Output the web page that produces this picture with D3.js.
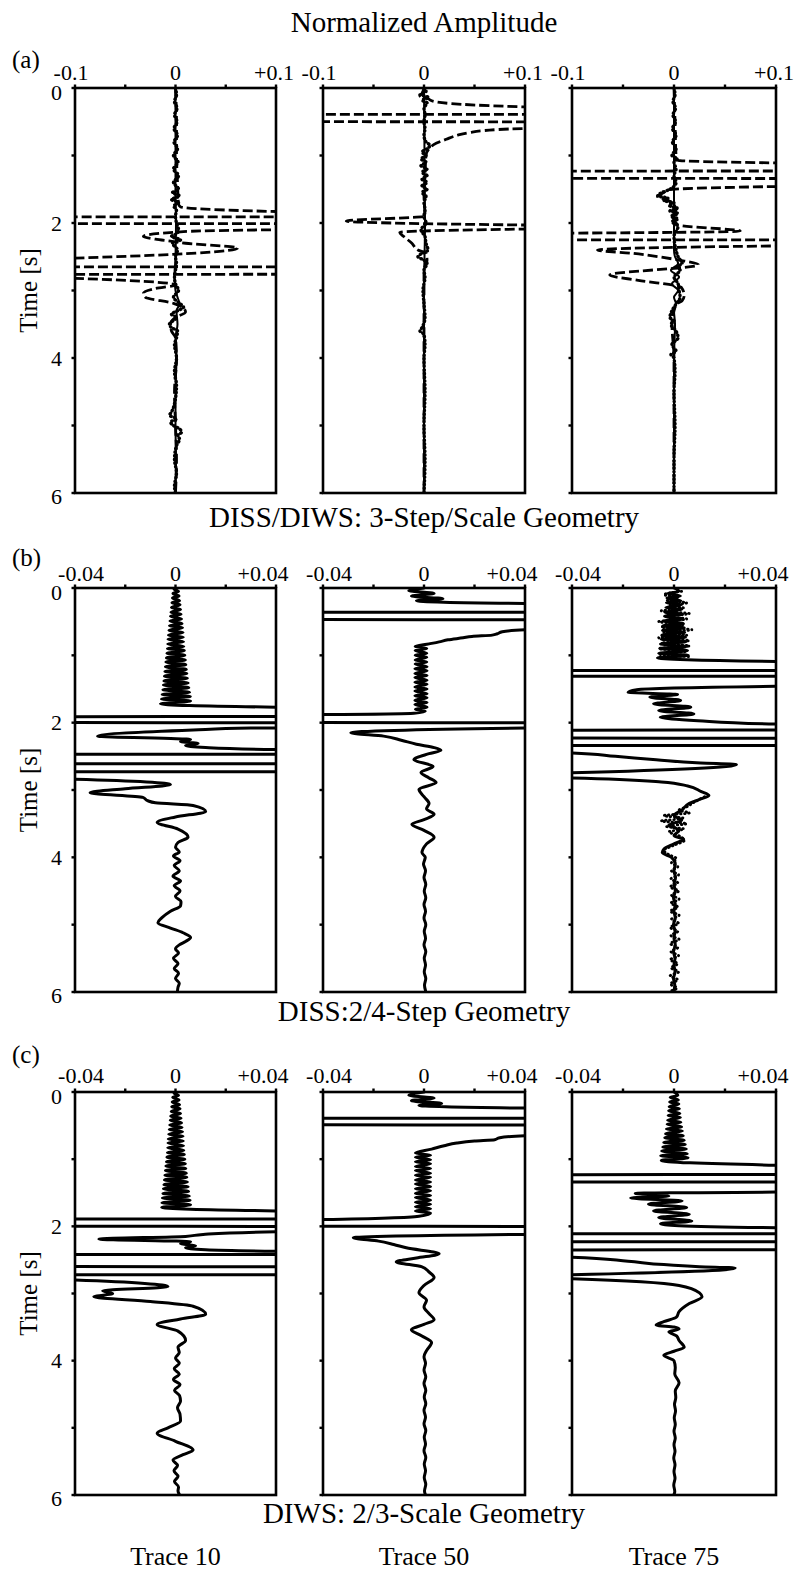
<!DOCTYPE html>
<html><head><meta charset="utf-8">
<script src="https://cdn.jsdelivr.net/npm/d3@7"></script>
<style>body{margin:0;background:#fff}svg{display:block}text{font-family:'Liberation Serif','Times New Roman',serif;fill:#000}</style>
</head><body><script>
// ---------- text ----------
const titleText = "Normalized Amplitude";
const rowLetters = ["(a)", "(b)", "(c)"];
const rowCaptions = ["DISS/DIWS: 3-Step/Scale Geometry", "DISS:2/4-Step Geometry", "DIWS: 2/3-Scale Geometry"];
const traceNames = ["Trace 10", "Trace 50", "Trace 75"];
const yAxisLabel = "Time [s]";
// ---------- axes ----------
const xDomains = [[-0.1, 0.1], [-0.04, 0.04], [-0.04, 0.04]];
const xTickValsA = [-0.1, -0.05, 0, 0.05, 0.1];
const xTickLabelsA = ["-0.1", "", "0", "", "+0.1"];
const xTickValsB = [-0.04, -0.02, 0, 0.02, 0.04];
const xTickLabelsB = ["-0.04", "", "0", "", "+0.04"];
const yTickVals = [0, 1, 2, 3, 4, 5, 6];
const yTickLabels = ["0", "", "2", "", "4", "", "6"];

// ---------- traces: [time s, amplitude] ----------
// row (a)
const a1Solid = [[0,0],[1.5,0],[2,0.0005],[2.5,0],[2.8,-0.001],[3,0],[3.1,0.002],[3.2,0.004],[3.3,0.001],[3.5,0.002],[3.7,0],[4,0.001],[4.5,0],[5,0],[5.5,0.0005],[6,0]];
const a1Dot = [[0,0],[0.1,0.001],[0.2,-0.001],[0.3,0.0015],[0.4,-0.001],[0.5,0.0015],[0.6,-0.0015],[0.7,0.002],[0.8,-0.0015],[0.9,0.002],[1,-0.002],[1.1,0.0025],[1.2,-0.002],[1.3,0.003],[1.4,-0.002],[1.5,0.003],[1.55,-0.003],[1.6,0.004],[1.65,-0.004],[1.7,0.003],[1.75,-0.002],[1.8,0.001],[1.9,0],[2,0.001],[2.1,0.003],[2.15,0.002],[2.2,-0.004],[2.25,0.005],[2.3,-0.003],[2.4,0.002],[2.5,0],[2.6,0.001],[2.7,0],[2.8,-0.001],[2.9,0],[3,0.003],[3.1,-0.002],[3.2,0.005],[3.25,0.008],[3.3,0.002],[3.35,-0.004],[3.4,0.001],[3.5,-0.006],[3.55,-0.004],[3.6,0.002],[3.7,0.001],[3.8,-0.001],[4,0.001],[4.2,-0.001],[4.4,0.001],[4.6,0],[4.8,-0.004],[4.85,-0.006],[4.9,0.001],[4.95,-0.005],[5,-0.002],[5.05,0.004],[5.1,0.006],[5.15,0.002],[5.2,0.004],[5.3,0.001],[5.5,-0.001],[5.7,0.001],[5.9,-0.001],[6,0]];
const a1Dash = [[0,0],[0.5,0.001],[1,0.001],[1.4,0.002],[1.72,0.003],[1.76,0.005],[1.83,0.1],[1.85,1],[1.9,1],[1.92,-1],[2,-1],[2.02,1],[2.08,1],[2.1,0.1],[2.13,0.005],[2.2,-0.032],[2.24,-0.02],[2.27,-0.005],[2.3,0.01],[2.37,0.062],[2.52,-0.1],[2.54,-1],[2.64,-1],[2.66,1],[2.75,1],[2.77,-1],[2.8,-1],[2.82,-0.1],[2.92,0],[2.97,-0.02],[3.04,-0.032],[3.1,-0.03],[3.19,-0.002],[3.26,0.008],[3.32,0.01],[3.4,0],[3.5,-0.005],[3.6,-0.004],[3.7,0],[4,0.001],[4.5,-0.001],[5,0],[5.5,0.001],[6,0]];
const a2Solid = [[0,0],[2,0.001],[3,0],[6,0]];
const a2Dot = [[0,0],[0.05,0.002],[0.1,-0.004],[0.14,0.005],[0.18,-0.002],[0.22,0.003],[0.3,0],[0.4,0.001],[0.5,0],[0.6,0.001],[0.7,0],[0.8,0.002],[0.85,0.006],[0.9,0.003],[0.95,-0.002],[1,0.002],[1.05,-0.003],[1.1,0.002],[1.15,-0.003],[1.2,0.003],[1.25,-0.002],[1.3,0.003],[1.35,-0.002],[1.4,0.003],[1.45,-0.002],[1.5,0.003],[1.55,-0.002],[1.6,0.002],[1.7,0],[1.8,0.001],[1.9,0],[2,0.002],[2.1,-0.003],[2.2,0.001],[2.3,0.002],[2.4,0.004],[2.45,-0.002],[2.5,-0.006],[2.55,0],[2.6,0.003],[2.7,0],[2.8,0.001],[3,-0.001],[3.2,0],[3.4,0.001],[3.55,-0.002],[3.6,-0.004],[3.65,0],[3.8,0.001],[4,0],[4.5,0.001],[5,0],[5.5,0.001],[6,0]];
const a2Dash = [[0,0],[0.08,-0.002],[0.12,-0.004],[0.16,0.004],[0.2,0.01],[0.28,0.1],[0.3,1],[0.38,1],[0.4,-1],[0.49,-1],[0.51,1],[0.58,1],[0.6,0.1],[0.63,0.06],[0.66,0.045],[0.7,0.033],[0.76,0.022],[0.82,0.012],[0.9,0.005],[1,0.002],[1.3,0.001],[1.6,0],[1.9,0.001],[1.97,-0.077],[2.03,0.1],[2.04,1],[2.07,1],[2.09,0.1],[2.14,-0.024],[2.2,-0.02],[2.3,-0.012],[2.4,-0.006],[2.45,0.002],[2.55,0.003],[2.7,0],[6,0]];
const a3Solid = [[0,0],[2.4,0],[2.5,0.001],[2.6,0.004],[2.7,-0.003],[2.8,0.005],[2.9,-0.002],[3,0.004],[3.1,0],[3.2,0.002],[3.3,0],[3.5,0.001],[4,0],[6,0]];
const a3Dot = [[0,0],[0.1,0.001],[0.2,-0.001],[0.3,0.0015],[0.4,-0.001],[0.5,0.0015],[0.6,-0.0015],[0.7,0.002],[0.8,-0.0015],[0.9,0.002],[1,-0.002],[1.05,0.003],[1.1,0],[1.2,0.002],[1.3,0],[1.4,0.002],[1.5,-0.004],[1.55,-0.012],[1.6,-0.016],[1.63,-0.006],[1.67,-0.01],[1.7,0],[1.74,-0.005],[1.78,0.003],[1.82,-0.004],[1.86,0.004],[1.9,-0.003],[1.94,0.004],[1.98,-0.002],[2.05,0.004],[2.2,0],[2.4,0.002],[2.5,0.004],[2.6,0.008],[2.65,0.003],[2.7,0.006],[2.8,0],[2.9,0.004],[3,0.005],[3.1,0.006],[3.2,0.002],[3.3,-0.002],[3.4,-0.004],[3.45,0],[3.5,-0.003],[3.6,0.002],[3.7,0.004],[3.8,-0.002],[3.9,0.002],[3.95,-0.003],[4,0],[4.2,0.001],[4.5,0],[5,0.001],[5.5,0],[6,0]];
const a3Dash = [[0,0],[0.5,0.001],[1,0.002],[1.07,0.004],[1.11,0.1],[1.13,1],[1.22,1],[1.24,-1],[1.33,-1],[1.35,1],[1.44,1],[1.46,0.1],[1.51,-0.006],[1.55,-0.01],[1.61,-0.016],[1.65,-0.008],[1.7,-0.002],[1.8,0.002],[1.9,-0.001],[2,0.002],[2.03,0.004],[2.12,0.065],[2.15,-0.1],[2.17,-1],[2.24,-1],[2.26,1],[2.32,1],[2.34,0.1],[2.4,-0.075],[2.45,-0.04],[2.5,-0.015],[2.55,0.005],[2.62,0.024],[2.77,-0.063],[2.85,-0.035],[2.95,0.007],[3.07,0.01],[3.15,0.008],[3.2,0.003],[3.3,0],[3.5,-0.002],[4,0],[6,0]];
// row (b)
const b1Solid = [[0,0.0006],[0.02,-0.0006],[0.05,0.0012],[0.08,-0.001],[0.12,0.0014],[0.15,-0.0012],[0.19,0.0016],[0.22,-0.0014],[0.25,0.0018],[0.29,-0.0016],[0.32,0.002],[0.36,-0.0018],[0.39,0.0022],[0.42,-0.002],[0.46,0.0024],[0.49,-0.0022],[0.53,0.0026],[0.56,-0.0024],[0.59,0.0028],[0.63,-0.0026],[0.66,0.003],[0.7,-0.0028],[0.73,0.0031],[0.76,-0.003],[0.8,0.0032],[0.83,-0.0031],[0.87,0.0033],[0.9,-0.0032],[0.93,0.0035],[0.97,-0.0034],[1,0.0037],[1.04,-0.0036],[1.07,0.0039],[1.1,-0.0038],[1.14,0.0041],[1.17,-0.004],[1.21,0.0043],[1.24,-0.0042],[1.27,0.0045],[1.31,-0.0044],[1.34,0.0047],[1.38,-0.0046],[1.41,0.005],[1.44,-0.0048],[1.48,0.0053],[1.51,-0.005],[1.55,0.0056],[1.58,-0.0053],[1.61,0.0059],[1.65,-0.0056],[1.68,0.006],[1.72,-0.006],[1.77,0.04],[1.79,1],[1.89,1],[1.93,-1],[1.98,-1],[2.02,1],[2.05,1],[2.08,0.03],[2.11,0.007],[2.2,-0.031],[2.25,0.006],[2.28,0.002],[2.31,0.009],[2.34,0.004],[2.37,0.012],[2.4,0.04],[2.42,1],[2.45,1],[2.49,-1],[2.59,-1],[2.63,1],[2.71,1],[2.75,-1],[2.8,-1],[2.84,-0.04],[2.92,-0.002],[2.98,-0.02],[3.04,-0.034],[3.11,-0.013],[3.16,-0.011],[3.19,-0.008],[3.23,0.007],[3.32,0.012],[3.4,0],[3.48,-0.0073],[3.58,0.001],[3.7,0.005],[3.78,0.001],[3.85,0],[3.92,0.0015],[3.98,-0.0008],[4.05,0.0018],[4.12,-0.0005],[4.2,0.0015],[4.28,-0.001],[4.35,0.002],[4.42,-0.0005],[4.5,0.0018],[4.58,0],[4.66,0.0022],[4.72,0.002],[4.8,-0.002],[4.9,-0.0055],[4.97,-0.007],[5.05,-0.002],[5.12,0.003],[5.19,0.006],[5.25,0.004],[5.3,0.0015],[5.36,0],[5.42,0.0012],[5.5,-0.0008],[5.58,0.001],[5.65,-0.0005],[5.72,0.0012],[5.8,0],[5.87,0.0015],[5.93,0.001],[5.98,0.0008]];
const b2Solid = [[0,0],[0.04,-0.006],[0.08,0.004],[0.12,-0.005],[0.16,0.0075],[0.19,-0.003],[0.23,0.04],[0.25,1],[0.34,1],[0.38,-1],[0.45,-1],[0.49,1],[0.59,1],[0.62,0.04],[0.65,0.031],[0.68,0.029],[0.7,0.027],[0.72,0.019],[0.74,0.0155],[0.77,0.0095],[0.8,0.006],[0.83,0.002],[0.87,-0.0035],[0.9,0.0011],[0.93,-0.0035],[0.97,0.0011],[1,-0.0035],[1.03,0.0011],[1.07,-0.0035],[1.1,0.0011],[1.13,-0.0035],[1.17,0.0012],[1.2,-0.0036],[1.23,0.0012],[1.27,-0.0036],[1.3,0.0012],[1.33,-0.0036],[1.37,0.0012],[1.4,-0.0036],[1.43,0.0012],[1.47,-0.0036],[1.5,0.0012],[1.53,-0.0036],[1.57,0.0012],[1.6,-0.0036],[1.63,0.0012],[1.67,-0.0036],[1.7,0.0012],[1.73,-0.0036],[1.77,0.0012],[1.8,-0.0034],[1.83,0.0005],[1.86,-0.004],[1.88,-0.04],[1.9,-1],[1.98,-1],[2.02,1],[2.05,1],[2.08,0.04],[2.15,-0.029],[2.2,-0.016],[2.26,-0.009],[2.32,-0.003],[2.37,0.004],[2.41,0.0067],[2.46,0.002],[2.55,-0.004],[2.65,0.0036],[2.74,-0.0012],[2.82,0.002],[2.89,0.0048],[2.99,-0.002],[3.1,0],[3.2,0.002],[3.28,0.001],[3.36,0.004],[3.44,0],[3.51,-0.0048],[3.6,0],[3.7,0.004],[3.8,0.001],[3.93,-0.0008],[4,0.0005],[4.1,-0.0002],[4.2,0.0006],[4.3,0],[4.4,0.0007],[4.5,0.0001],[4.6,0.0007],[4.7,0],[4.8,0.0006],[4.9,0],[5,0.0007],[5.1,0.0001],[5.2,0.0006],[5.3,0],[5.4,0.0007],[5.5,0.0001],[5.6,0.0006],[5.7,0.0001],[5.8,0.0007],[5.9,0.0002],[5.98,0.0006]];
const b3Solid = [[0,0],[0.05,0.002],[0.08,-0.0025],[0.12,0.0025],[0.15,-0.0028],[0.19,0.0027],[0.22,-0.003],[0.25,0.003],[0.29,-0.0032],[0.32,0.003],[0.36,-0.0035],[0.39,0.0033],[0.42,-0.0037],[0.46,0.0035],[0.49,-0.004],[0.53,0.0037],[0.56,-0.0043],[0.59,0.004],[0.63,-0.0045],[0.66,0.0042],[0.7,-0.0048],[0.73,0.0045],[0.76,-0.005],[0.8,0.0047],[0.83,-0.0053],[0.87,0.005],[0.9,-0.0056],[0.93,0.0053],[0.97,-0.006],[1,0.0056],[1.04,-0.0065],[1.09,0.04],[1.1,1],[1.2,1],[1.25,-1],[1.29,-1],[1.33,1],[1.44,1],[1.46,0.04],[1.51,-0.0146],[1.55,-0.018],[1.58,0.0014],[1.62,-0.0095],[1.67,0.0026],[1.72,-0.008],[1.77,0.0066],[1.82,-0.006],[1.87,0.0078],[1.92,-0.0054],[1.97,0.0094],[2.02,0.04],[2.03,1],[2.09,1],[2.13,-1],[2.21,-1],[2.25,1],[2.32,1],[2.36,-1],[2.43,-1],[2.45,-0.04],[2.5,-0.023],[2.55,-0.007],[2.6,0.0105],[2.62,0.0245],[2.745,-0.04],[2.76,-1],[2.8,-1],[2.82,-0.04],[2.88,-0.005],[2.94,0.0054],[3.02,0.0105],[3.08,0.0137],[3.14,0.01],[3.2,0.006],[3.3,0.003],[3.38,0],[3.45,0.003],[3.52,-0.002],[3.6,0.002],[3.68,0],[3.73,0.0038],[3.8,0],[3.88,-0.004],[3.93,-0.0046],[4,-0.001],[4.1,0.0005],[4.2,0],[4.3,0.0006],[4.4,0],[4.5,0.0005],[4.6,-0.0002],[4.7,0.0005],[4.8,0],[4.9,0.0005],[5,-0.0002],[5.1,0.0004],[5.2,0],[5.3,0.0005],[5.4,-0.0002],[5.5,0.0004],[5.6,0],[5.7,0.0004],[5.8,-0.0002],[5.9,0.0003],[5.98,0]];
const b3DotA = [[0.05,0.003],[0.1,-0.004],[0.14,0.002],[0.18,-0.003],[0.22,0.005],[0.26,-0.002],[0.3,0.004],[0.34,-0.005],[0.38,0.006],[0.42,-0.003],[0.46,0.005],[0.5,-0.006],[0.54,0.004],[0.58,-0.005],[0.62,0.007],[0.66,-0.004],[0.7,0.005],[0.74,-0.006],[0.78,0.006],[0.82,-0.005],[0.86,0.006],[0.9,-0.006],[0.94,0.005],[0.98,-0.006],[1.02,0.006]];
const b3DotB = [[3.1,0.012],[3.18,0.008],[3.25,0.005],[3.3,0.002],[3.34,0.006],[3.38,-0.004],[3.42,0.004],[3.46,-0.005],[3.5,0.005],[3.54,-0.003],[3.58,0.004],[3.62,-0.002],[3.68,0.002],[3.75,0.004],[3.82,0],[3.9,-0.004],[3.96,-0.002],[4.02,0.001],[4.08,-0.001],[4.14,0.0015],[4.2,-0.001],[4.26,0.0018],[4.32,-0.0012],[4.38,0.0015],[4.44,-0.0015],[4.5,0.0018],[4.56,-0.001],[4.62,0.002],[4.68,-0.0012],[4.74,0.0015],[4.8,-0.0015],[4.86,0.002],[4.92,-0.001],[4.98,0.0018],[5.04,-0.0015],[5.1,0.0015],[5.16,-0.0012],[5.22,0.002],[5.28,-0.0015],[5.34,0.0015],[5.4,-0.0012],[5.46,0.0018],[5.52,-0.0015],[5.58,0.0015],[5.64,-0.0012],[5.7,0.0018],[5.76,-0.0015],[5.82,0.0015],[5.88,-0.0015],[5.94,0.0012],[5.98,-0.001]];
// row (c)
const c1Solid = [[0,0.0006],[0.02,-0.0006],[0.05,0.0012],[0.08,-0.0011],[0.12,0.0014],[0.15,-0.0013],[0.19,0.0016],[0.22,-0.0015],[0.25,0.0018],[0.29,-0.0017],[0.32,0.002],[0.36,-0.0019],[0.39,0.0022],[0.42,-0.0021],[0.46,0.0024],[0.49,-0.0023],[0.53,0.0026],[0.56,-0.0025],[0.59,0.0028],[0.63,-0.0027],[0.66,0.003],[0.7,-0.0029],[0.73,0.0031],[0.76,-0.003],[0.8,0.0032],[0.83,-0.0031],[0.87,0.0033],[0.9,-0.0032],[0.93,0.0035],[0.97,-0.0034],[1,0.0037],[1.04,-0.0036],[1.07,0.0039],[1.1,-0.0038],[1.14,0.0041],[1.17,-0.004],[1.21,0.0043],[1.24,-0.0042],[1.27,0.0045],[1.31,-0.0044],[1.34,0.0047],[1.38,-0.0046],[1.41,0.005],[1.44,-0.0048],[1.48,0.0052],[1.51,-0.005],[1.55,0.0055],[1.58,-0.0052],[1.61,0.0058],[1.65,-0.0054],[1.68,0.006],[1.72,-0.0055],[1.77,0.04],[1.79,1],[1.87,1],[1.91,-1],[1.98,-1],[2.02,1],[2.05,1],[2.08,0.04],[2.12,0.011],[2.15,0.004],[2.19,-0.0305],[2.23,0.006],[2.26,0.002],[2.29,0.008],[2.32,0.004],[2.35,0.012],[2.37,0.04],[2.38,1],[2.4,1],[2.44,-1],[2.58,-1],[2.62,1],[2.7,1],[2.74,-1],[2.77,-1],[2.8,-0.04],[2.9,-0.003],[2.96,-0.029],[3,-0.025],[3.05,-0.0325],[3.12,-0.01],[3.19,0.007],[3.31,0.012],[3.38,0.002],[3.46,-0.0073],[3.56,0.001],[3.7,0.004],[3.8,0.001],[3.88,0.0015],[3.96,0],[4.04,0.0015],[4.12,-0.0005],[4.2,0.0015],[4.28,-0.0008],[4.36,0.0018],[4.44,-0.0004],[4.52,0.0016],[4.6,0.002],[4.7,0.0008],[4.8,0.0018],[4.9,0.002],[5,-0.003],[5.08,-0.0073],[5.2,0],[5.33,0.007],[5.4,0.003],[5.48,-0.001],[5.56,0.0008],[5.64,-0.0006],[5.72,0.001],[5.8,-0.0004],[5.88,0.0012],[5.94,0.001],[5.99,0.0015]];
const c2Solid = [[0,0],[0.05,-0.006],[0.09,0.004],[0.13,-0.005],[0.17,0.007],[0.2,-0.002],[0.24,0.04],[0.26,1],[0.37,1],[0.41,-1],[0.47,-1],[0.51,1],[0.62,1],[0.65,0.04],[0.68,0.03],[0.71,0.028],[0.73,0.02],[0.76,0.013],[0.8,0.008],[0.85,0.003],[0.91,-0.0034],[0.94,0.0026],[0.97,-0.0034],[1.01,0.0026],[1.04,-0.0034],[1.07,0.0026],[1.11,-0.0034],[1.14,0.0026],[1.17,-0.0034],[1.21,0.0026],[1.24,-0.0034],[1.27,0.0026],[1.31,-0.0034],[1.34,0.0026],[1.37,-0.0034],[1.41,0.0026],[1.44,-0.0034],[1.47,0.0026],[1.51,-0.0034],[1.54,0.0026],[1.57,-0.0034],[1.61,0.0026],[1.64,-0.0034],[1.67,0.0026],[1.71,-0.0034],[1.74,0.0026],[1.77,-0.0034],[1.8,0.0026],[1.85,-0.002],[1.9,-0.04],[1.91,-1],[1.98,-1],[2.02,1],[2.08,1],[2.12,0.04],[2.17,-0.028],[2.22,-0.018],[2.27,-0.012],[2.32,-0.007],[2.41,0.006],[2.47,-0.003],[2.53,-0.011],[2.6,-0.001],[2.68,0.002],[2.76,0.004],[2.88,0],[2.99,-0.002],[3.1,0.001],[3.2,0],[3.3,0.002],[3.39,0.004],[3.46,0],[3.54,-0.005],[3.63,-0.001],[3.73,0.003],[3.85,0.001],[3.94,0],[4.04,0.0006],[4.14,0],[4.24,0.0007],[4.34,0],[4.44,0.0007],[4.54,0.0001],[4.64,0.0007],[4.74,0],[4.84,0.0006],[4.94,0],[5.04,0.0007],[5.14,0.0001],[5.24,0.0006],[5.34,0],[5.44,0.0007],[5.54,0.0001],[5.64,0.0006],[5.74,0.0001],[5.84,0.0007],[5.94,0.0002],[5.99,0.0005]];
const c3Solid = [[0,0],[0.05,0.0015],[0.08,-0.0015],[0.12,0.0017],[0.15,-0.0017],[0.18,0.0019],[0.22,-0.0019],[0.25,0.0021],[0.28,-0.0021],[0.32,0.0023],[0.35,-0.0023],[0.38,0.0025],[0.42,-0.0025],[0.45,0.0027],[0.48,-0.0027],[0.52,0.003],[0.55,-0.003],[0.58,0.0033],[0.62,-0.0033],[0.65,0.0036],[0.68,-0.0036],[0.72,0.004],[0.75,-0.004],[0.78,0.0044],[0.82,-0.0044],[0.85,0.0048],[0.88,-0.0048],[0.92,0.0052],[0.95,-0.0052],[0.98,0.0055],[1.02,-0.005],[1.09,0.04],[1.1,1],[1.21,1],[1.25,-1],[1.32,-1],[1.36,1],[1.46,1],[1.49,0.04],[1.51,-0.0152],[1.55,-0.002],[1.58,-0.017],[1.62,0.0032],[1.67,-0.01],[1.72,0.005],[1.77,-0.008],[1.82,0.006],[1.87,-0.006],[1.92,0.007],[1.96,-0.0053],[1.99,0.002],[2.02,0.04],[2.03,1],[2.09,1],[2.13,-1],[2.21,-1],[2.25,1],[2.33,1],[2.37,-1],[2.43,-1],[2.46,-0.04],[2.52,-0.018],[2.57,-0.004],[2.6,0.01],[2.62,0.024],[2.72,-0.04],[2.73,-1],[2.76,-1],[2.78,-0.04],[2.88,0.002],[2.99,0.01],[3.05,0.011],[3.15,0.006],[3.27,0.002],[3.35,0.001],[3.42,-0.004],[3.47,-0.007],[3.5,0],[3.53,0.002],[3.57,-0.002],[3.63,0.001],[3.7,0.002],[3.8,0.004],[3.86,0],[3.92,-0.004],[4,0],[4.1,0.0005],[4.2,0.0003],[4.33,0.002],[4.45,0.0005],[4.55,0.0007],[4.65,0.0002],[4.75,0.0006],[4.85,0.0001],[4.95,0.0005],[5.05,0],[5.15,0.0005],[5.25,0],[5.35,0.0004],[5.45,-0.0001],[5.55,0.0004],[5.65,0],[5.75,0.0004],[5.85,-0.0001],[5.95,0.0003],[5.99,0]];

// ---------- layout ----------
const W = 794, H = 1570;
const colX = [[75, 276], [323, 525], [572, 776]];
const rowY = [[88, 493], [588, 992], [1092, 1495]];
const letterY = [68, 566, 1063];
const tickLabY = [80, 581, 1083];
const captionY = [527, 1021, 1523];
const edgeDx = [[-4, -2], [6, -13], [6, -13]];
const xTickVals = [xTickValsA, xTickValsB, xTickValsB];
const xTickLabels = [xTickLabelsA, xTickLabelsB, xTickLabelsB];

const panels = [
  {row:0, col:0, traces:[["dashed", a1Dash], ["dotted", a1Dot], ["solid", a1Solid]]},
  {row:0, col:1, traces:[["dashed", a2Dash], ["dotted", a2Dot], ["solid", a2Solid]]},
  {row:0, col:2, traces:[["dashed", a3Dash], ["dotted", a3Dot], ["solid", a3Solid]]},
  {row:1, col:0, traces:[["solidB", b1Solid]]},
  {row:1, col:1, traces:[["solidB", b2Solid]]},
  {row:1, col:2, traces:[["dottedB", b3DotA], ["dottedB", b3DotB], ["solidB", b3Solid]]},
  {row:2, col:0, traces:[["solidB", c1Solid]]},
  {row:2, col:1, traces:[["solidB", c2Solid]]},
  {row:2, col:2, traces:[["solidB", c3Solid]]}
];
const styles = {
  solid:   {w: 2,   dash: null, cap: "butt"},
  dashed:  {w: 2.8, dash: "10,4", cap: "butt"},
  dotted:  {w: 3.4, dash: "0.5,3.2", cap: "round"},
  solidB:  {w: 3,   dash: null, cap: "round"},
  dottedB: {w: 2.8, dash: "0.5,3.5", cap: "round"}
};

const svg = d3.select("body").append("svg").attr("width", W).attr("height", H);
const defs = svg.append("defs");

svg.append("text").attr("x", 424).attr("y", 32).attr("text-anchor", "middle")
  .style("font-size", "29px").text(titleText);

rowLetters.forEach((t, r) => {
  svg.append("text").attr("x", 12).attr("y", letterY[r]).style("font-size", "25px").text(t);
  svg.append("text").attr("x", 424).attr("y", captionY[r]).attr("text-anchor", "middle")
    .style("font-size", "29px").text(rowCaptions[r]);
  const mid = (rowY[r][0] + rowY[r][1]) / 2;
  svg.append("text").attr("transform", `translate(37,${mid}) rotate(-90)`)
    .attr("text-anchor", "middle").style("font-size", "25px").text(yAxisLabel);
});

panels.forEach((p, i) => {
  const r = p.row, c = p.col;
  const x = d3.scaleLinear().domain(xDomains[r]).range(colX[c]);
  const y = d3.scaleLinear().domain([0, 6]).range(rowY[r]);
  const [x0, x1] = colX[c], [y0, y1] = rowY[r];
  const cid = "clip" + i;
  defs.append("clipPath").attr("id", cid).append("rect")
    .attr("x", x0).attr("y", y0).attr("width", x1 - x0).attr("height", y1 - y0);
  const line = d3.line().x(d => x(d[1])).y(d => y(d[0])).curve(d3.curveMonotoneY);
  const g = svg.append("g");
  const tg = g.append("g").attr("clip-path", `url(#${cid})`);
  p.traces.forEach(([st, data]) => {
    const s = styles[st];
    tg.append("path").datum(data).attr("d", line)
      .attr("fill", "none").attr("stroke", "#000").attr("stroke-width", s.w)
      .attr("stroke-linecap", s.cap).attr("stroke-linejoin", "round")
      .attr("stroke-dasharray", s.dash);
  });
  g.append("rect").attr("x", x0).attr("y", y0).attr("width", x1 - x0).attr("height", y1 - y0)
    .attr("fill", "none").attr("stroke", "#000").attr("stroke-width", 2.6);
  xTickVals[r].forEach((v, k) => {
    g.append("line").attr("x1", x(v)).attr("x2", x(v)).attr("y1", y0).attr("y2", y0 - 3.5)
      .attr("stroke", "#000").attr("stroke-width", 2.4);
    const lab = xTickLabels[r][k];
    if (lab) {
      const dx = k === 0 ? edgeDx[r][0] : (k === xTickVals[r].length - 1 ? edgeDx[r][1] : 0);
      g.append("text").attr("x", x(v) + dx).attr("y", tickLabY[r]).attr("text-anchor", "middle")
        .style("font-size", "22px").text(lab);
    }
  });
  yTickVals.forEach((t, k) => {
    g.append("line").attr("x1", x0).attr("x2", x0 - 3.5).attr("y1", y(t)).attr("y2", y(t))
      .attr("stroke", "#000").attr("stroke-width", 2.4);
    if (c === 0 && yTickLabels[k]) {
      const dy = t === 0 ? 4 : (t === 6 ? 3 : 0);
      g.append("text").attr("x", 62).attr("y", y(t) + dy).attr("dy", "0.35em")
        .attr("text-anchor", "end").style("font-size", "22px").text(yTickLabels[k]);
    }
  });
  if (r === 2) {
    svg.append("text").attr("x", (x0 + x1) / 2).attr("y", 1565).attr("text-anchor", "middle")
      .style("font-size", "26px").text(traceNames[c]);
  }
});
</script></body></html>
